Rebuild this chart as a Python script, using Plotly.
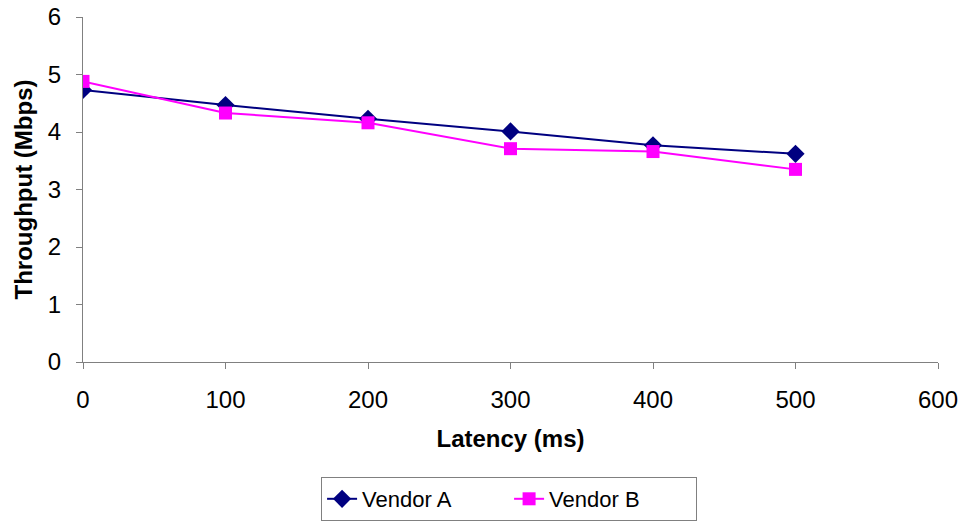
import plotly.graph_objects as go

latency = [0, 100, 200, 300, 400, 500]
vendor_a = [4.73, 4.47, 4.23, 4.01, 3.77, 3.62]
vendor_b = [4.88, 4.33, 4.16, 3.71, 3.66, 3.35]

fig = go.Figure()
fig.add_trace(go.Scatter(x=latency, y=vendor_a, name="Vendor A", mode="lines+markers",
                         line=dict(color="#000080", width=2),
                         marker=dict(symbol="diamond", size=14, color="#000080")))
fig.add_trace(go.Scatter(x=latency, y=vendor_b, name="Vendor B", mode="lines+markers",
                         line=dict(color="#FF00FF", width=2),
                         marker=dict(symbol="square", size=13, color="#FF00FF")))

fnt = "Liberation Sans, Arial, sans-serif"
fig.update_layout(
    width=966, height=525,
    margin=dict(l=83, r=28, t=17, b=163, autoexpand=False),
    paper_bgcolor="white", plot_bgcolor="white",
    font=dict(family=fnt, size=24, color="black"),
    showlegend=True,
    legend=dict(orientation="h", xref="container", yref="container",
                x=0.527, xanchor="center", y=(525 - 477) / 525, yanchor="top",
                bordercolor="#808080", borderwidth=1, font=dict(size=22),
                tracegroupgap=0, entrywidth=142),
    xaxis=dict(range=[0, 600], dtick=100, showgrid=False, zeroline=False,
               showline=True, linecolor="#808080", linewidth=1,
               ticks="outside", ticklen=6, tickcolor="#808080",
               ticklabelstandoff=10, automargin=False,
               title=dict(text="<b>Latency (ms)</b>", font=dict(size=24), standoff=18)),
    yaxis=dict(range=[0, 6], dtick=1, showgrid=False, zeroline=False,
               showline=True, linecolor="#808080", linewidth=1,
               ticks="outside", ticklen=6, tickcolor="#808080",
               ticklabelstandoff=10, automargin=False,
               title=dict(text="<b>Throughput (Mbps)</b>", font=dict(size=24), standoff=8)),
)
fig.write_html("out.html")
